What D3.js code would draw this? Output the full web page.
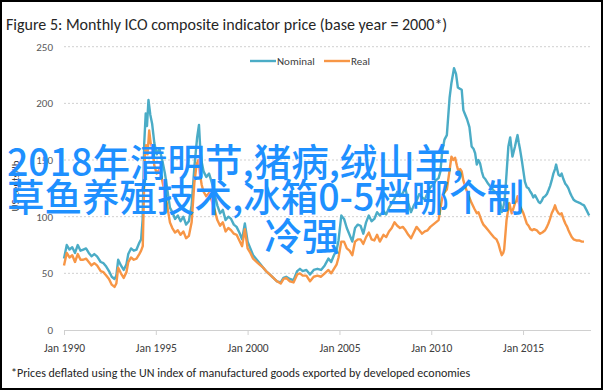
<!DOCTYPE html>
<html>
<head>
<meta charset="utf-8">
<script src="https://cdn.jsdelivr.net/npm/d3@7"></script>
<style>
  body { margin: 0; background: #fff; }
  svg { display: block; }
</style>
</head>
<body>
<div id="chart"></div>
<script>
// decimal years, with the matching values (US cents/lb)
const nominalTimes = [
  1990.0, 1990.15, 1990.3, 1990.45, 1990.6, 1990.75, 1990.9, 1991.05, 1991.2, 1991.35, 1991.5, 1991.65, 1991.8,
  1992.0, 1992.15, 1992.3, 1992.45, 1992.6, 1992.75, 1992.85, 1992.95, 1993.1, 1993.25, 1993.4, 1993.5, 1993.65,
  1993.8, 1993.95, 1994.1, 1994.2, 1994.28, 1994.37, 1994.45, 1994.52, 1994.6, 1994.7, 1994.8, 1994.92, 1995.05,
  1995.2, 1995.35, 1995.5, 1995.62, 1995.77, 1995.9, 1996.05, 1996.2, 1996.35, 1996.5, 1996.65, 1996.8, 1996.95,
  1997.1, 1997.25, 1997.35, 1997.42, 1997.5, 1997.6, 1997.75, 1997.9, 1998.05, 1998.2, 1998.35, 1998.5, 1998.65,
  1998.8, 1998.95, 1999.1, 1999.25, 1999.4, 1999.55, 1999.7, 1999.85, 2000.0, 2000.15, 2000.3, 2000.5, 2000.7,
  2000.85, 2001.0, 2001.2, 2001.4, 2001.6, 2001.8, 2001.95, 2002.1, 2002.3, 2002.5, 2002.7, 2002.85, 2003.0,
  2003.2, 2003.4, 2003.6, 2003.8, 2004.0, 2004.2, 2004.4, 2004.55, 2004.7, 2004.85, 2004.95, 2005.1, 2005.25,
  2005.4, 2005.55, 2005.7, 2005.85, 2006.0, 2006.15, 2006.3, 2006.45, 2006.6, 2006.75, 2006.9, 2007.05, 2007.2,
  2007.4, 2007.55, 2007.7, 2007.85, 2008.0, 2008.15, 2008.3, 2008.45, 2008.6, 2008.75, 2008.9, 2009.05, 2009.2,
  2009.35, 2009.5, 2009.65, 2009.8, 2009.95, 2010.1, 2010.25, 2010.4, 2010.5, 2010.6, 2010.72, 2010.85, 2011.0,
  2011.1, 2011.24, 2011.35, 2011.45, 2011.55, 2011.66, 2011.75, 2011.85, 2011.95, 2012.08, 2012.2, 2012.3, 2012.39,
  2012.48, 2012.57, 2012.66, 2012.75, 2012.84, 2012.95, 2013.1, 2013.25, 2013.4, 2013.55, 2013.66, 2013.75, 2013.84,
  2013.92, 2014.0, 2014.1, 2014.2, 2014.3, 2014.42, 2014.5, 2014.56, 2014.64, 2014.7, 2014.77, 2014.84, 2014.93,
  2015.02, 2015.1, 2015.2, 2015.3, 2015.4, 2015.48, 2015.56, 2015.65, 2015.75, 2015.85, 2015.93, 2016.02, 2016.1,
  2016.2, 2016.3, 2016.4, 2016.47, 2016.56, 2016.65, 2016.74, 2016.8, 2016.87, 2016.93, 2017.02, 2017.1, 2017.2,
  2017.3, 2017.4, 2017.47, 2017.56, 2017.65, 2017.75, 2017.83, 2017.95, 2018.1, 2018.2, 2018.32, 2018.45, 2018.6
];
const nominalValues = [
  63, 75, 71, 73, 68, 75, 70, 71, 72, 68, 65, 67, 65,
  60, 59, 56, 52, 47, 45, 48, 62, 57, 53, 58, 67, 72,
  70, 71, 77, 80, 97, 165, 191, 180, 203, 190, 182, 165, 155,
  160, 150, 138, 125, 108, 104, 98, 101, 96, 100, 93, 96, 110,
  144, 170, 181, 160, 148, 140, 135, 138, 130, 120, 110, 103, 106,
  97, 100, 98, 93, 91, 86, 80, 94, 78, 72, 66, 62, 58,
  55, 52, 49, 46, 43, 42, 46, 47, 45, 44, 52, 54, 52,
  53, 49, 53, 54, 53, 57, 63, 60, 66, 71, 79, 101, 98,
  90, 84, 78, 90, 93, 92, 85, 95, 101, 96, 98, 104, 101,
  105, 102, 108, 112, 116, 122, 118, 121, 125, 112, 104, 110, 114,
  120, 117, 115, 121, 126, 128, 132, 134, 140, 158, 168, 172, 205,
  218, 231, 226, 214, 213, 212, 194, 190, 186, 179, 162, 160, 156,
  146, 150, 147, 140, 135, 133, 129, 126, 123, 121, 118, 114, 104,
  108, 115, 138, 162, 170, 153, 158, 162, 168, 172, 165, 159, 150,
  140, 131, 126, 125, 122, 120, 117, 119, 116, 113, 112, 114, 117,
  118, 120, 124, 127, 132, 138, 142, 146, 141, 137, 136, 138, 133,
  129, 127, 125, 121, 118, 115, 114, 113, 112, 111, 110, 106, 101
];

const realTimes = [
  1990.0, 1990.15, 1990.3, 1990.45, 1990.6, 1990.75, 1990.9, 1991.05, 1991.2, 1991.35, 1991.5, 1991.65, 1991.8,
  1992.0, 1992.15, 1992.3, 1992.45, 1992.6, 1992.75, 1992.85, 1992.95, 1993.1, 1993.25, 1993.4, 1993.5, 1993.65,
  1993.8, 1993.95, 1994.1, 1994.2, 1994.29, 1994.4, 1994.47, 1994.55, 1994.64, 1994.72, 1994.82, 1994.92, 1995.05,
  1995.2, 1995.35, 1995.5, 1995.62, 1995.77, 1995.9, 1996.05, 1996.2, 1996.35, 1996.5, 1996.65, 1996.8, 1996.95,
  1997.1, 1997.22, 1997.32, 1997.4, 1997.5, 1997.6, 1997.75, 1997.9, 1998.05, 1998.2, 1998.35, 1998.5, 1998.65,
  1998.8, 1998.95, 1999.1, 1999.25, 1999.4, 1999.55, 1999.7, 1999.85, 2000.0, 2000.15, 2000.3, 2000.5, 2000.7,
  2000.85, 2001.0, 2001.2, 2001.4, 2001.6, 2001.8, 2001.95, 2002.1, 2002.3, 2002.5, 2002.7, 2002.85, 2003.0,
  2003.2, 2003.4, 2003.6, 2003.8, 2004.0, 2004.2, 2004.4, 2004.55, 2004.7, 2004.85, 2004.95, 2005.1, 2005.25,
  2005.4, 2005.55, 2005.7, 2005.85, 2006.0, 2006.15, 2006.3, 2006.45, 2006.6, 2006.75, 2006.9, 2007.05, 2007.2,
  2007.4, 2007.55, 2007.7, 2007.85, 2008.0, 2008.15, 2008.3, 2008.45, 2008.6, 2008.75, 2008.9, 2009.05, 2009.2,
  2009.35, 2009.5, 2009.65, 2009.8, 2009.95, 2010.1, 2010.25, 2010.4, 2010.5, 2010.62, 2010.75, 2010.85, 2011.0,
  2011.1, 2011.2, 2011.3, 2011.4, 2011.48, 2011.58, 2011.66, 2011.75, 2011.84, 2011.95, 2012.05, 2012.2, 2012.35,
  2012.48, 2012.57, 2012.66, 2012.75, 2012.84, 2012.95, 2013.1, 2013.25, 2013.4, 2013.55, 2013.66, 2013.76, 2013.84,
  2013.92, 2013.97, 2014.1, 2014.25, 2014.38, 2014.47, 2014.56, 2014.64, 2014.7, 2014.77, 2014.84, 2014.93, 2015.02,
  2015.1, 2015.2, 2015.3, 2015.4, 2015.5, 2015.6, 2015.75, 2015.85, 2015.93, 2016.05, 2016.2, 2016.3, 2016.38,
  2016.47, 2016.56, 2016.65, 2016.74, 2016.82, 2016.93, 2017.02, 2017.1, 2017.2, 2017.3, 2017.4, 2017.47, 2017.56,
  2017.65, 2017.75, 2017.9, 2018.05, 2018.2, 2018.32
];
const realValues = [
  57, 68, 64, 66, 60, 67, 62, 62, 63, 60, 57, 59, 57,
  52, 51, 48, 45, 40, 38, 41, 55, 50, 46, 51, 60, 64,
  62, 63, 67, 70, 74, 153, 163, 155, 176, 165, 160, 145, 138,
  142, 132, 120, 110, 95, 90, 86, 88, 84, 87, 81, 83, 95,
  130, 146, 150, 138, 128, 122, 118, 121, 114, 106, 97, 92, 95,
  87, 90, 88, 85, 84, 79, 74, 89, 72, 68, 63, 60, 57,
  55, 52, 49, 46, 43, 41, 45, 46, 43, 42, 49, 50, 48,
  48, 43, 47, 48, 47, 50, 53, 50, 54, 58, 64, 78, 78,
  72, 70, 66, 78, 80, 80, 76, 82, 86, 80, 79, 84, 78,
  84, 82, 87, 90, 95, 92, 90, 91, 88, 84, 81, 86, 91,
  88, 85, 87, 88, 91, 93, 95, 97, 107, 119, 122, 124, 141,
  153, 150, 152, 145, 140, 142, 140, 132, 127, 122, 118, 112, 107,
  103, 104, 100, 96, 93, 91, 88, 85, 82, 80, 76, 70, 66,
  68, 71, 97, 112, 103, 107, 112, 114, 118, 112, 109, 106, 103,
  99, 94, 92, 89, 88, 89, 88, 86, 85, 86, 88, 91, 94,
  98, 103, 106, 110, 106, 103, 102, 103, 98, 94, 91, 88, 85,
  82, 80, 79, 79, 78, 78
];

const seriesNames = ["Nominal", "Real"];
const seriesColors = ["#4bacc6", "#f79646"];
const yTicks = [0, 50, 100, 150, 200, 250];
const xTickYears = [1990, 1995, 2000, 2005, 2010, 2015];

const titleText = "Figure 5: Monthly  ICO composite indicator price (base year = 2000*)";
const yAxisTitle = "US cents/lb";
const footnoteText = "*Prices deflated using the UN index of manufactured goods exported by developed economies";
const overlayLines = ["2018年清明节,猪病,绒山羊,", "草鱼养殖技术,冰箱0-5档哪个制", "冷强"];

function toDate(t) {
  const y = Math.floor(t);
  const start = Date.UTC(y, 0, 1), end = Date.UTC(y + 1, 0, 1);
  return new Date(start + (t - y) * (end - start));
}

const W = 604, H = 390;
const font = "Carlito, Lato, sans-serif";

const svg = d3.select("#chart").append("svg")
  .attr("width", W)
  .attr("height", H);

svg.append("rect")
  .attr("x", 1).attr("y", 1)
  .attr("width", 601).attr("height", 388)
  .attr("fill", "#fff")
  .attr("stroke", "#000")
  .attr("stroke-width", 2);

const x = d3.scaleUtc()
  .domain([toDate(1990), toDate(2018.7)])
  .range([64, 591]);

const y = d3.scaleLinear()
  .domain([0, 250])
  .range([330, 46.7]);

// gridlines
svg.append("g")
  .selectAll("line")
  .data(yTicks.filter(d => d > 0))
  .enter().append("line")
  .attr("x1", 64).attr("x2", 591)
  .attr("y1", d => y(d)).attr("y2", d => y(d))
  .attr("stroke", "#d0d0d0")
  .attr("stroke-width", 1)
  .attr("stroke-dasharray", "2,2");

// y axis labels
const yAxis = svg.append("g")
  .attr("transform", "translate(64,0)")
  .call(d3.axisLeft(y).tickValues(yTicks).tickSize(0).tickPadding(11));
yAxis.select(".domain").remove();
yAxis.selectAll("text")
  .attr("fill", "#595959")
  .style("font-family", font)
  .style("font-size", "11px");

// x axis
const xAxis = svg.append("g")
  .attr("transform", `translate(0,${y(0)})`)
  .call(d3.axisBottom(x)
    .tickValues(xTickYears.map(toDate))
    .tickFormat(d3.utcFormat("Jan %Y"))
    .tickSize(5)
    .tickPadding(9));
xAxis.select(".domain")
  .attr("d", `M64,0.5H591`)
  .attr("stroke", "#d0d0d0");
xAxis.selectAll(".tick line").attr("stroke", "#d0d0d0");
xAxis.selectAll("text")
  .attr("fill", "#404040")
  .style("font-family", font)
  .style("font-size", "11.5px");

// lines
const line = d3.line()
  .x(d => x(toDate(d[0])))
  .y(d => y(d[1]));

const series = [
  d3.zip(nominalTimes, nominalValues),
  d3.zip(realTimes, realValues)
];

series.forEach((data, i) => {
  svg.append("path")
    .datum(data)
    .attr("fill", "none")
    .attr("stroke", seriesColors[i])
    .attr("stroke-width", 2.4)
    .attr("stroke-linejoin", "round")
    .attr("d", line);
});

// legend
const legendX = [250, 324];
const legend = svg.append("g");
seriesNames.forEach((name, i) => {
  legend.append("line")
    .attr("x1", legendX[i]).attr("x2", legendX[i] + 26)
    .attr("y1", 61).attr("y2", 61)
    .attr("stroke", seriesColors[i])
    .attr("stroke-width", 2.4);
  legend.append("text")
    .attr("x", legendX[i] + 27)
    .attr("y", 65)
    .attr("fill", "#404040")
    .style("font-family", font)
    .style("font-size", "11px")
    .text(name);
});

// title
svg.append("text")
  .attr("x", 6)
  .attr("y", 30)
  .attr("fill", "#262626")
  .style("font-family", font)
  .style("font-size", "16px")
  .text(titleText);

// y axis title
svg.append("text")
  .attr("transform", "translate(19,186) rotate(-90)")
  .attr("text-anchor", "middle")
  .attr("fill", "#404040")
  .style("font-family", font)
  .style("font-size", "11px")
  .text(yAxisTitle);

// footnote
svg.append("text")
  .attr("x", 11)
  .attr("y", 377)
  .attr("fill", "#262626")
  .style("font-family", font)
  .style("font-size", "12px")
  .text(footnoteText);

// overlay caption
const overlayPos = [
  { x: 7, y: 176, anchor: "start" },
  { x: 7, y: 211, anchor: "start" },
  { x: 302, y: 250, anchor: "middle" }
];
overlayLines.forEach((t, i) => {
  svg.append("text")
    .attr("x", overlayPos[i].x)
    .attr("y", overlayPos[i].y)
    .attr("text-anchor", overlayPos[i].anchor)
    .attr("fill", "#1e90ff")
    .style("font-family", "'Noto Sans CJK SC', sans-serif")
    .style("font-weight", 500)
    .style("font-size", "37.5px")
    .text(t);
});
</script>
</body>
</html>
